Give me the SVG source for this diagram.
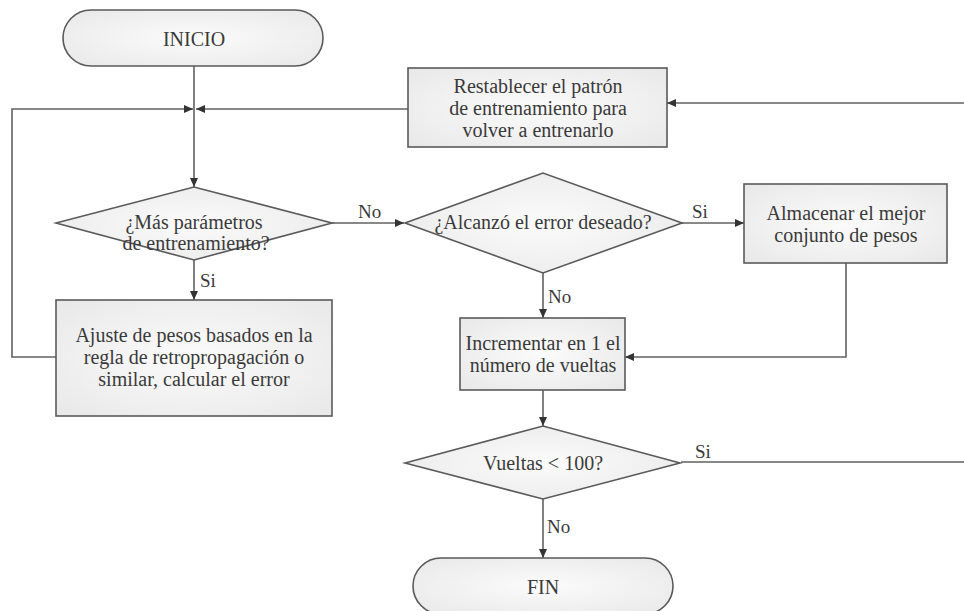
<svg xmlns="http://www.w3.org/2000/svg" width="964" height="611" viewBox="0 0 964 611">
  <style>
    .shape { fill: url(#soft); stroke: #5a5a5a; stroke-width: 1.6; }
    .label { font-size: 20px; fill: #3a3a3a; text-anchor: middle; }
    .tag { font-size: 19px; fill: #3a3a3a; }
    .wire { fill: none; stroke: #616161; stroke-width: 1.6; }
    .arrow { marker-end: url(#head); }
  </style>
  <defs>
    <radialGradient id="soft" cx="50%" cy="50%" r="70%">
      <stop offset="0" stop-color="#fbfbfb"/>
      <stop offset="1" stop-color="#e8e8e8"/>
    </radialGradient>
    <marker id="head" markerUnits="userSpaceOnUse" markerWidth="10" markerHeight="9" refX="9" refY="4" orient="auto">
      <path d="M0,0 L9,4 L0,8 z" fill="#333"/>
    </marker>
  </defs>

  <rect width="964" height="611" fill="#ffffff"/>

  <g font-family="Liberation Serif, DejaVu Serif, serif">
  <!-- connectors -->
  <g id="connectors">
    <path class="wire arrow" d="M194,66 V187"/>
    <path class="wire arrow" d="M56,357 H12 V109 H193"/>
    <path class="wire arrow" d="M408,109 H196"/>
    <path class="wire arrow" d="M332,223 H404"/>
    <path class="wire arrow" d="M194,260 V300"/>
    <path class="wire arrow" d="M682,223 H744"/>
    <path class="wire arrow" d="M543,273 V318"/>
    <path class="wire arrow" d="M846,263 V357 H625"/>
    <path class="wire arrow" d="M543,390 V426"/>
    <path class="wire arrow" d="M543,499 V558"/>
    <path class="wire arrow" d="M681,462 H980 V103 H667"/>
    <text class="tag" x="358" y="218">No</text>
    <text class="tag" x="200" y="287">Si</text>
    <text class="tag" x="692" y="218">Si</text>
    <text class="tag" x="548" y="303">No</text>
    <text class="tag" x="695" y="458">Si</text>
    <text class="tag" x="547" y="533">No</text>
  </g>

  <g id="inicio">
    <rect class="shape" x="63" y="10" width="260" height="56" rx="28" ry="28"/>
    <text class="label" x="194" y="46">INICIO</text>
  </g>

  <g id="restablecer">
    <rect class="shape" x="408" y="68" width="259" height="79"/>
    <text class="label" x="538" y="93">Restablecer el patrón</text>
    <text class="label" x="538" y="115">de entrenamiento para</text>
    <text class="label" x="538" y="137">volver a entrenarlo</text>
  </g>

  <g id="mas-parametros">
    <polygon class="shape" points="56,223 194,187 332,223 194,260"/>
    <text class="label" x="194" y="229">¿Más parámetros</text>
    <text class="label" x="196" y="250">de entrenamiento?</text>
  </g>

  <g id="alcanzo-error">
    <polygon class="shape" points="405,223 543,173 682,223 543,273"/>
    <text class="label" x="543" y="229">¿Alcanzó el error deseado?</text>
  </g>

  <g id="almacenar">
    <rect class="shape" x="744" y="184" width="203" height="79"/>
    <text class="label" x="846" y="220">Almacenar el mejor</text>
    <text class="label" x="846" y="242">conjunto de pesos</text>
  </g>

  <g id="ajuste">
    <rect class="shape" x="56" y="300" width="276" height="116"/>
    <text class="label" x="194" y="342">Ajuste de pesos basados en la</text>
    <text class="label" x="194" y="364">regla de retropropagación o</text>
    <text class="label" x="194" y="386">similar, calcular el error</text>
  </g>

  <g id="incrementar">
    <rect class="shape" x="460" y="318" width="165" height="72"/>
    <text class="label" x="543" y="350">Incrementar en 1 el</text>
    <text class="label" x="543" y="372">número de vueltas</text>
  </g>

  <g id="vueltas">
    <polygon class="shape" points="405,463 543,426 680,463 543,499"/>
    <text class="label" x="543" y="470">Vueltas &lt; 100?</text>
  </g>

  <g id="fin">
    <rect class="shape" x="413" y="558" width="260" height="56" rx="28" ry="28"/>
    <text class="label" x="543" y="594">FIN</text>
  </g>
  </g>
</svg>
